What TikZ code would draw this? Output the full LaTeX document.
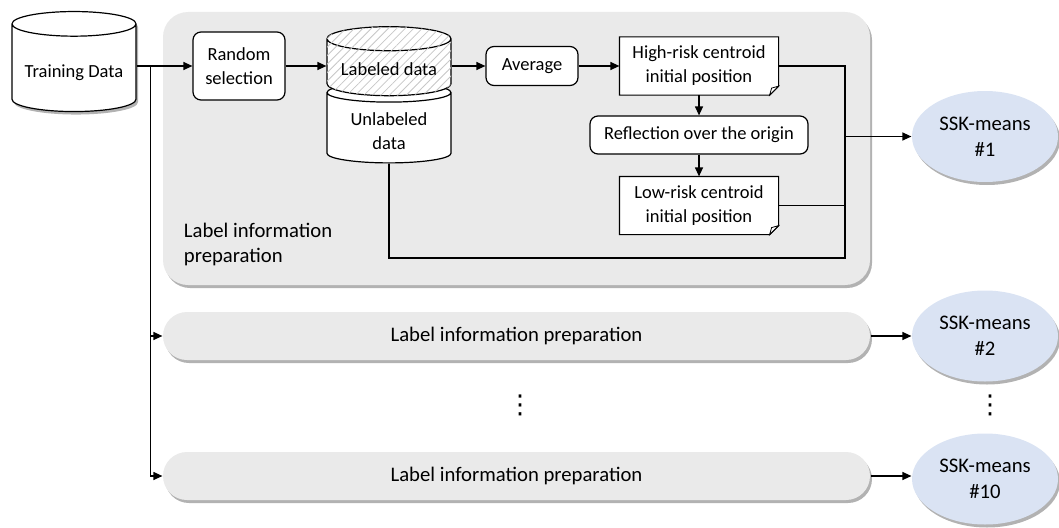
\documentclass[tikz,border=0pt]{standalone}
\usepackage{fontspec}
\setmainfont{Carlito}
\newfontfamily\symfont{DejaVu Sans}
\usepackage{xcolor}
\usetikzlibrary{shapes.geometric, arrows.meta, positioning, calc, shadows, patterns.meta}

\definecolor{panelgray}{RGB}{234,234,234}
\definecolor{sskblue}{RGB}{218,227,243}

\begin{document}
\begin{tikzpicture}[
  x=1pt, y=-1pt,
  font=\fontsize{18.5}{24}\selectfont,
  align=center,
  line width=1.2pt,
  arr/.style={-{Triangle[length=9pt,width=8pt]}},
  softshadow/.style={drop shadow={shadow xshift=2pt, shadow yshift=-3pt, opacity=0.3, fill=black}},
  db/.style={cylinder, shape border rotate=90, draw, fill=white, aspect=0.25, inner sep=0pt},
  proc/.style={rectangle, rounded corners=8pt, draw, fill=white, inner sep=2pt},
  note/.style={rectangle, fill=white, minimum width=158pt, minimum height=57pt, inner sep=2pt},
  panel/.style={rectangle, rounded corners=25pt, fill=panelgray, softshadow, minimum width=707pt},
  bar/.style={panel, rounded corners=24pt, minimum height=48pt, font=\fontsize{20.7}{25}\selectfont},
  ssk/.style={ellipse, fill=sskblue, softshadow, minimum width=146pt, minimum height=91pt,
              inner sep=0pt, font=\fontsize{20.7}{26}\selectfont},
  vdots/.style={font=\symfont\fontsize{26}{26}\selectfont},
]
\useasboundingbox (0,0) rectangle (1059,527);

% Input data
\node[db, softshadow, minimum width=124pt, minimum height=100pt] (train) at (74,68)
  {\raisebox{-5pt}[\height][\depth]{Training Data}};

% First label preparation block
\node[panel, minimum height=273pt] (prep1) at (516.5,148.5) {};
\node[anchor=west, align=left, font=\fontsize{20.7}{25}\selectfont] (prep1lbl) at (180,244)
  {Label information\\preparation};

\node[proc, minimum width=92pt, minimum height=68pt] (rand) at (239,66) {Random\\selection};
\node[db, minimum width=124pt, minimum height=80pt] (unlab) at (389,128)
  {\raisebox{-5pt}[\height][\depth]{\begin{tabular}{@{}c@{}}Unlabeled\\data\end{tabular}}};
\node[db, minimum width=124pt, minimum height=69pt,
      postaction={pattern={Lines[angle=45,distance=6pt,line width=0.8pt]}, pattern color=black!22}]
      (lab) at (389,67.5) {\raisebox{-2pt}[\height][\depth]{Labeled data}};
\node[proc, minimum width=92pt, minimum height=39pt] (avg) at (532,66) {Average};
\node[note] (hirisk) at (699,66) {High-risk centroid\\initial position};
\node[proc, minimum width=218pt, minimum height=38pt] (refl) at (699,135) {Reflection over the origin};
\node[note] (lorisk) at (699,205.5) {Low-risk centroid\\initial position};

% folded corners
\foreach \n in {hirisk,lorisk}{
  \fill[panelgray] ([yshift=9pt]\n.south east) -- (\n.south east) -- ([xshift=-9pt]\n.south east) -- cycle;
  \draw (\n.north west) -- (\n.north east) -- ([yshift=9pt]\n.south east)
        -- ([xshift=-9pt]\n.south east) -- (\n.south west) -- cycle;
  \draw[line width=0.8pt, fill=white] ([yshift=9pt]\n.south east) -- ([xshift=-9pt]\n.south east)
        -- ([xshift=-7pt,yshift=7pt]\n.south east) -- cycle;
}

% Repeated blocks
\node[bar] (prep2)  at (516.5,336) {Label information preparation};
\node[bar] (prep10) at (516.5,476) {Label information preparation};
\node[vdots] (dotsmid) at (520,405) {⋮};

% Clustering runs
\node[ssk] (ssk1)  at (985,136.5) {SSK-means\\\#1};
\node[ssk] (ssk2)  at (985,336)   {SSK-means\\\#2};
\node[ssk] (ssk10) at (985,479)   {SSK-means\\\#10};
\node[vdots] (dotsright) at (990,405) {⋮};

% Edges
\coordinate (split) at ([xshift=14pt]train.east |- rand.west);
\coordinate (merge) at (845,136.5);
\coordinate (loop)  at (845,258);
\draw[arr] (rand.west -| train.east) -- (rand.west);
\draw[arr] (split) |- (prep2.west);
\draw[arr] (split) |- (prep10.west);
\draw[arr] (rand.east) -- (rand.east -| lab.west);
\draw[arr] (lab.east |- avg.west) -- (avg.west);
\draw[arr] (avg) -- (hirisk);
\draw[arr] (hirisk) -- (refl);
\draw[arr] (refl) -- (lorisk);
\draw (hirisk.east) -| (merge);
\draw (lorisk.east) -| (merge);
\draw (unlab.south) |- (loop) -- (merge);
\draw[arr] (merge) -- (ssk1);
\draw[arr] (prep2) -- (ssk2);
\draw[arr] (prep10.east) -- (prep10.east -| ssk10.west);

\end{tikzpicture}
\end{document}
